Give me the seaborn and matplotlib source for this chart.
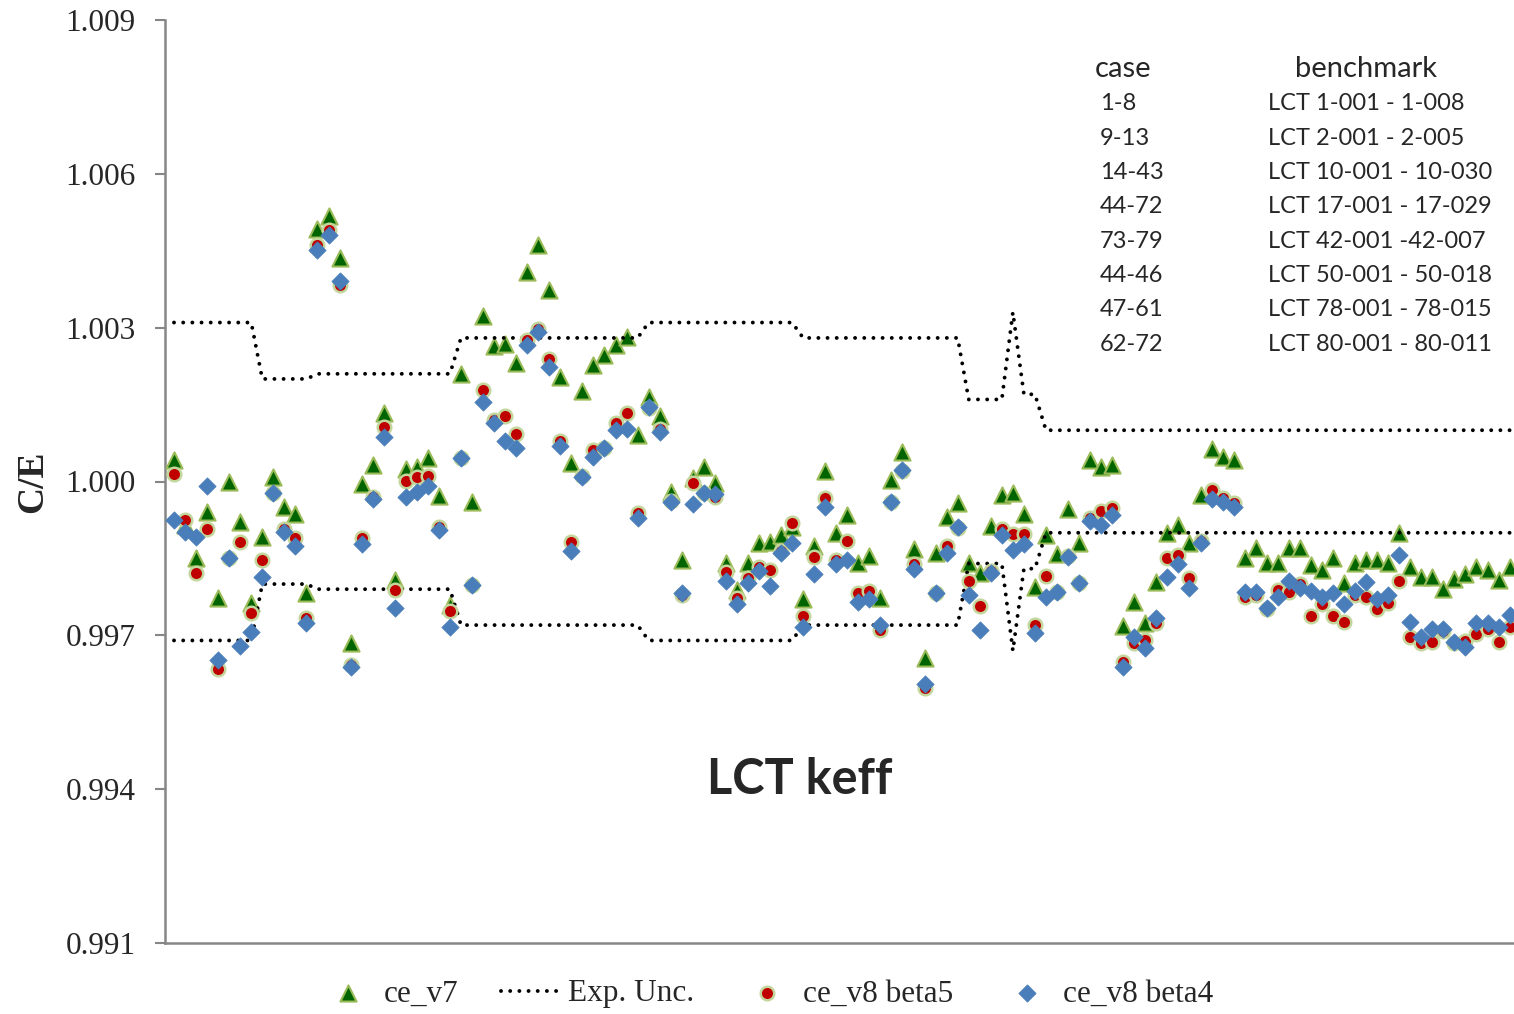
import numpy as np
import pandas as pd
import matplotlib
matplotlib.use("Agg")
import matplotlib.pyplot as plt
import seaborn as sns

# case index (x axis has no labels)
case = np.arange(1, 123)

ce_v7 = [
    1.00042, 0.99915, 0.99851, 0.99941, 0.99773, 1.00000, 0.99921, 0.99763, 0.99892, 1.00009,
    0.99950, 0.99937, 0.99783, 1.00492, 1.00518, 1.00436, 0.99685, 0.99995, 1.00032, 1.00134,
    0.99808, 1.00024, 1.00028, 1.00046, 0.99972, 0.99759, 1.00210, 0.99960, 1.00323, 1.00264,
    1.00268, 1.00231, 1.00409, 1.00461, 1.00373, 1.00204, 1.00036, 1.00176, 1.00227, 1.00247,
    1.00266, 1.00282, 1.00091, 1.00165, 1.00128, 0.99980, 0.99847, 1.00007, 1.00028, 0.99997,
    0.99841, 0.99788, 0.99841, 0.99880, 0.99882, 0.99896, 0.99911, 0.99771, 0.99874, 1.00020,
    0.99900, 0.99935, 0.99841, 0.99855, 0.99773, 1.00003, 1.00058, 0.99868, 0.99656, 0.99861,
    0.99931, 0.99958, 0.99841, 0.99822, 0.99913, 0.99974, 0.99978, 0.99937, 0.99794, 0.99896,
    0.99859, 0.99946, 0.99880, 1.00042, 1.00028, 1.00032, 0.99718, 0.99765, 0.99724, 0.99804,
    0.99900, 0.99915, 0.99880, 0.99974, 1.00063, 1.00048, 1.00042, 0.99851, 0.99870, 0.99841,
    0.99841, 0.99870, 0.99870, 0.99837, 0.99827, 0.99851, 0.99802, 0.99841, 0.99847, 0.99847,
    0.99841, 0.99900, 0.99833, 0.99814, 0.99814, 0.99790, 0.99810, 0.99820, 0.99833, 0.99827,
    0.99808, 0.99833,
]

ce_v8_beta5 = [
    1.00015, 0.99925, 0.99822, 0.99907, 0.99634, 0.99851, 0.99882, 0.99744, 0.99847, 0.99978,
    0.99907, 0.99890, 0.99734, 1.00461, 1.00490, 1.00383, 0.99642, 0.99890, 0.99970, 1.00106,
    0.99788, 1.00001, 1.00009, 1.00011, 0.99911, 0.99747, 1.00046, 0.99798, 1.00178, 1.00120,
    1.00128, 1.00093, 1.00276, 1.00297, 1.00239, 1.00079, 0.99882, 1.00011, 1.00061, 1.00065,
    1.00114, 1.00134, 0.99939, 1.00143, 1.00102, 0.99962, 0.99779, 0.99997, 0.99978, 0.99970,
    0.99824, 0.99773, 0.99812, 0.99833, 0.99827, 0.99864, 0.99919, 0.99738, 0.99853, 0.99968,
    0.99847, 0.99884, 0.99783, 0.99786, 0.99710, 0.99960, 1.00020, 0.99839, 0.99597, 0.99783,
    0.99874, 0.99909, 0.99806, 0.99757, 0.99825, 0.99907, 0.99898, 0.99898, 0.99720, 0.99816,
    0.99785, 0.99855, 0.99802, 0.99929, 0.99942, 0.99948, 0.99648, 0.99685, 0.99691, 0.99724,
    0.99851, 0.99857, 0.99812, 0.99884, 0.99983, 0.99968, 0.99958, 0.99775, 0.99779, 0.99751,
    0.99788, 0.99785, 0.99800, 0.99738, 0.99761, 0.99738, 0.99726, 0.99779, 0.99775, 0.99751,
    0.99763, 0.99806, 0.99697, 0.99685, 0.99687, 0.99708, 0.99685, 0.99689, 0.99703, 0.99712,
    0.99687, 0.99716,
]

ce_v8_beta4 = [
    0.99925, 0.99902, 0.99892, 0.99991, 0.99652, 0.99851, 0.99679, 0.99707, 0.99814, 0.99978,
    0.99902, 0.99874, 0.99724, 1.00451, 1.00481, 1.00391, 0.99638, 0.99878, 0.99966, 1.00087,
    0.99753, 0.99970, 0.99980, 0.99991, 0.99905, 0.99716, 1.00046, 0.99798, 1.00155, 1.00114,
    1.00079, 1.00065, 1.00266, 1.00292, 1.00223, 1.00069, 0.99864, 1.00009, 1.00048, 1.00065,
    1.00100, 1.00102, 0.99929, 1.00145, 1.00097, 0.99960, 0.99783, 0.99956, 0.99978, 0.99976,
    0.99806, 0.99761, 0.99802, 0.99825, 0.99796, 0.99861, 0.99880, 0.99716, 0.99820, 0.99950,
    0.99839, 0.99847, 0.99765, 0.99771, 0.99720, 0.99960, 1.00022, 0.99829, 0.99605, 0.99783,
    0.99861, 0.99911, 0.99779, 0.99710, 0.99822, 0.99896, 0.99866, 0.99878, 0.99705, 0.99775,
    0.99785, 0.99853, 0.99802, 0.99923, 0.99915, 0.99935, 0.99638, 0.99697, 0.99675, 0.99734,
    0.99814, 0.99839, 0.99792, 0.99880, 0.99966, 0.99960, 0.99950, 0.99785, 0.99785, 0.99753,
    0.99775, 0.99806, 0.99792, 0.99786, 0.99775, 0.99783, 0.99761, 0.99786, 0.99804, 0.99771,
    0.99779, 0.99857, 0.99726, 0.99697, 0.99712, 0.99712, 0.99687, 0.99677, 0.99724, 0.99724,
    0.99716, 0.99740,
]

# experimental uncertainty per case
exp_unc = [
    0.0031, 0.0031, 0.0031, 0.0031, 0.0031, 0.0031, 0.0031, 0.0031, 0.0020, 0.0020,
    0.0020, 0.0020, 0.0020, 0.0021, 0.0021, 0.0021, 0.0021, 0.0021, 0.0021, 0.0021,
    0.0021, 0.0021, 0.0021, 0.0021, 0.0021, 0.0021, 0.0028, 0.0028, 0.0028, 0.0028,
    0.0028, 0.0028, 0.0028, 0.0028, 0.0028, 0.0028, 0.0028, 0.0028, 0.0028, 0.0028,
    0.0028, 0.0028, 0.0028, 0.0031, 0.0031, 0.0031, 0.0031, 0.0031, 0.0031, 0.0031,
    0.0031, 0.0031, 0.0031, 0.0031, 0.0031, 0.0031, 0.0031, 0.0028, 0.0028, 0.0028,
    0.0028, 0.0028, 0.0028, 0.0028, 0.0028, 0.0028, 0.0028, 0.0028, 0.0028, 0.0028,
    0.0028, 0.0028, 0.0016, 0.0016, 0.0016, 0.0016, 0.0033, 0.0017, 0.0017, 0.0010,
    0.0010, 0.0010, 0.0010, 0.0010, 0.0010, 0.0010, 0.0010, 0.0010, 0.0010, 0.0010,
    0.0010, 0.0010, 0.0010, 0.0010, 0.0010, 0.0010, 0.0010, 0.0010, 0.0010, 0.0010,
    0.0010, 0.0010, 0.0010, 0.0010, 0.0010, 0.0010, 0.0010, 0.0010, 0.0010, 0.0010,
    0.0010, 0.0010, 0.0010, 0.0010, 0.0010, 0.0010, 0.0010, 0.0010, 0.0010, 0.0010,
    0.0010, 0.0010,
]

case_ranges = ["1-8", "9-13", "14-43", "44-72", "73-79", "44-46", "47-61", "62-72"]
benchmarks = ["LCT 1-001 - 1-008", "LCT 2-001 - 2-005", "LCT 10-001 - 10-030",
              "LCT 17-001 - 17-029", "LCT 42-001 -42-007", "LCT 50-001 - 50-018",
              "LCT 78-001 - 78-015", "LCT 80-001 - 80-011"]

y_ticks = [0.991, 0.994, 0.997, 1.000, 1.003, 1.006, 1.009]

df = pd.DataFrame({"case": case, "ce_v7": ce_v7, "beta5": ce_v8_beta5,
                   "beta4": ce_v8_beta4, "unc": exp_unc})
df["upper"] = 1 + df["unc"]
df["lower"] = 1 - df["unc"]

sns.set_style("white")
plt.rcParams["font.family"] = ["Liberation Serif", "DejaVu Serif"]

W, H = 1514, 1014
fig = plt.figure(figsize=(W / 100, H / 100), dpi=100)
ax = fig.add_axes([165 / W, 1 - 943 / H, 1 - 165 / W, (943 - 20) / H])

dot = (0, (0.01, 2.35))
sns.scatterplot(data=df, x="case", y="ce_v7", marker="^", s=135, color="#006400",
                edgecolor="#9BBB59", linewidth=1.5, label="ce_v7", legend=False,
                ax=ax, zorder=3)
sns.lineplot(data=df, x="case", y="upper", color="black", linestyle=dot,
             linewidth=2.8, dash_capstyle="round", label="Exp. Unc.", legend=False,
             ax=ax, zorder=4)
sns.lineplot(data=df, x="case", y="lower", color="black", linestyle=dot,
             linewidth=2.8, dash_capstyle="round", label="_nolegend_", legend=False,
             ax=ax, zorder=4)
sns.scatterplot(data=df, x="case", y="beta5", marker="o", s=95, color="#C00000",
                edgecolor="#C3D69B", linewidth=1.8, label="ce_v8 beta5", legend=False,
                ax=ax, zorder=5)
sns.scatterplot(data=df, x="case", y="beta4", marker="D", s=78, color="#4A7EBB",
                edgecolor="#4A7EBB", linewidth=0.5, label="ce_v8 beta4", legend=False,
                ax=ax, zorder=6)

ax.set_xlim(0.185, 122.4)
ax.set_ylim(0.991, 1.009)
ax.set_yticks(y_ticks)
ax.set_yticklabels([f"{t:.3f}" for t in y_ticks], fontsize=22.5)
ax.set_xticks([])
ax.set_xlabel("")
ax.set_ylabel("C/E", fontsize=27, fontweight="bold", labelpad=11)
ax.tick_params(axis="y", direction="out", length=7, width=1.5, color="#868686",
               pad=14, left=True)
for side in ["top", "right"]:
    ax.spines[side].set_visible(False)
for side in ["left", "bottom"]:
    ax.spines[side].set_color("#868686")
    ax.spines[side].set_linewidth(1.8)

# case / benchmark table
fs = 17
fig.text(1095 / W, 1 - 69 / H, "case", fontsize=21, family="Lato", va="center")
fig.text(1295 / W, 1 - 69 / H, "benchmark", fontsize=21, family="Lato", va="center")
for i, (c, b) in enumerate(zip(case_ranges, benchmarks)):
    yy = 1 - (104 + i * 34.3) / H
    fig.text(1100 / W, yy, c, fontsize=fs, family="Lato", va="center")
    fig.text(1268 / W, yy, b, fontsize=fs, family="Lato", va="center")

fig.text(800 / W, 1 - 780 / H, "LCT keff", fontsize=35, family="Lato",
         fontweight="bold", ha="center", va="center")

handles, labels = ax.get_legend_handles_labels()
fig.legend(handles, labels, loc="center", bbox_to_anchor=(765 / W, 1 - 994 / H),
           ncol=4, frameon=False, fontsize=22.5, handlelength=2.0,
           handletextpad=0.15, columnspacing=1.35, scatterpoints=1)

fig.savefig("out.png", dpi=100)
